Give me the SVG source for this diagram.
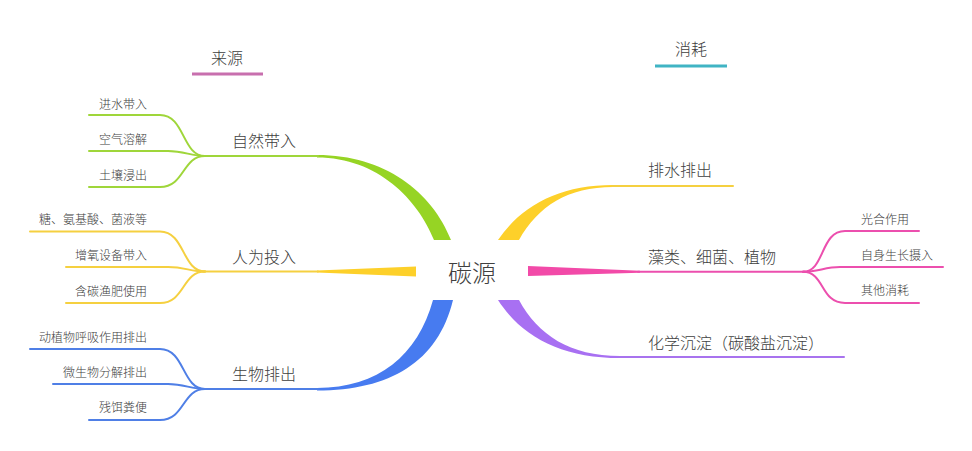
<svg xmlns="http://www.w3.org/2000/svg" width="972" height="451" viewBox="0 0 972 451">
<style>
text{font-family:"Noto Sans CJK SC","Noto Sans",sans-serif;fill:#404040;font-weight:300}
.c{font-size:12px}
.m{font-size:16px}
.line{fill:none;stroke-width:2;stroke-linecap:round}
.g{stroke:#9fd63a}.y{stroke:#f5d040}.b{stroke:#4f7fe6}.p{stroke:#ec4fae}.v{stroke:#a873ee}
</style>
<rect width="972" height="451" fill="#ffffff"/>
<g id="connectors">
  <path d="M317,155 C385,155 432,192 451,240 L434,240 C418,200 378,157.5 317,157.5 Z" fill="#96d424"/>
  <path d="M317,270.5 L416,266.5 L416,276.5 L317,272.5 Z" fill="#fdd02a"/>
  <path d="M317,388 C378,388 418,355 433,300 L453,300 C438,362 390,390.5 317,390.5 Z" fill="#477bf0"/>
  <path d="M498,240 C522,205 560,185 613,185 L613,187 C568,187 538,206 519,240 Z" fill="#fdd02a"/>
  <path d="M528,266 L640,270.8 L640,272.8 L528,276 Z" fill="#f24aa8"/>
  <path d="M498,300 C522,337 562,358 620,358 L620,356 C570,356 538,335 519,300 Z" fill="#a870f2"/>
  <path class="line g" d="M203,156 H318"/>
  <path class="line y" d="M203,271.5 H318"/>
  <path class="line b" d="M203,389 H318"/>
  <path class="line y" d="M612,186 H733"/>
  <path class="line p" d="M638,271.8 H805"/>
  <path class="line v" d="M618,357 H844"/>
  <path class="line g" d="M89,115 H160 C185,115 182,156 205,156"/>
  <path class="line g" d="M89,151 H168 C185,151 190,156 205,156"/>
  <path class="line g" d="M89,187 H160 C185,187 182,156 205,156"/>
  <path class="line y" d="M30,231.5 H160 C185,231.5 182,271.5 205,271.5"/>
  <path class="line y" d="M66,267 H168 C185,267 190,271.5 205,271.5"/>
  <path class="line y" d="M66,303 H160 C185,303 182,271.5 205,271.5"/>
  <path class="line b" d="M30,349 H160 C185,349 182,389 205,389"/>
  <path class="line b" d="M53,384 H168 C185,384 190,389 205,389"/>
  <path class="line b" d="M89,420 H160 C185,420 182,389 205,389"/>
  <path class="line p" d="M803,271.8 C825,271.8 820,231 845,231 H919"/>
  <path class="line p" d="M803,271.8 C818,271.8 825,267 840,267 H943"/>
  <path class="line p" d="M803,271.8 C825,271.8 820,303 845,303 H919"/>
  <path d="M192,74 H263" stroke="#c86fae" stroke-width="3"/>
  <path d="M655,66 H727" stroke="#40b4c4" stroke-width="3"/>
</g>
<g id="header-source"><text x="227" y="63.5" font-size="16" text-anchor="middle">来源</text></g>
<g id="header-consume"><text x="691" y="54.5" font-size="16" text-anchor="middle">消耗</text></g>
<g id="root"><text x="472" y="281.5" font-size="24" text-anchor="middle">碳源</text></g>
<g id="n-natural"><text class="m" x="232" y="146.5">自然带入</text></g>
<g id="n-human"><text class="m" x="232" y="262.5">人为投入</text></g>
<g id="n-bio"><text class="m" x="232" y="379.5">生物排出</text></g>
<g id="n-drain"><text class="m" x="648" y="176">排水排出</text></g>
<g id="n-algae"><text class="m" x="648" y="262.5">藻类、细菌、植物</text></g>
<g id="n-chem"><text class="m" x="648" y="348.5">化学沉淀（碳酸盐沉淀）</text></g>
<g id="c1"><text class="c" x="147" y="108.5" text-anchor="end">进水带入</text></g>
<g id="c2"><text class="c" x="147" y="143.5" text-anchor="end">空气溶解</text></g>
<g id="c3"><text class="c" x="147" y="179.5" text-anchor="end">土壤浸出</text></g>
<g id="c4"><text class="c" x="147" y="223.5" text-anchor="end">糖、氨基酸、菌液等</text></g>
<g id="c5"><text class="c" x="147" y="259.5" text-anchor="end">增氧设备带入</text></g>
<g id="c6"><text class="c" x="147" y="295.5" text-anchor="end">含碳渔肥使用</text></g>
<g id="c7"><text class="c" x="147" y="341.5" text-anchor="end">动植物呼吸作用排出</text></g>
<g id="c8"><text class="c" x="147" y="376.5" text-anchor="end">微生物分解排出</text></g>
<g id="c9"><text class="c" x="147" y="411.5" text-anchor="end">残饵粪便</text></g>
<g id="c10"><text class="c" x="861" y="224">光合作用</text></g>
<g id="c11"><text class="c" x="861" y="259.5">自身生长摄入</text></g>
<g id="c12"><text class="c" x="861" y="294.5">其他消耗</text></g>
</svg>
